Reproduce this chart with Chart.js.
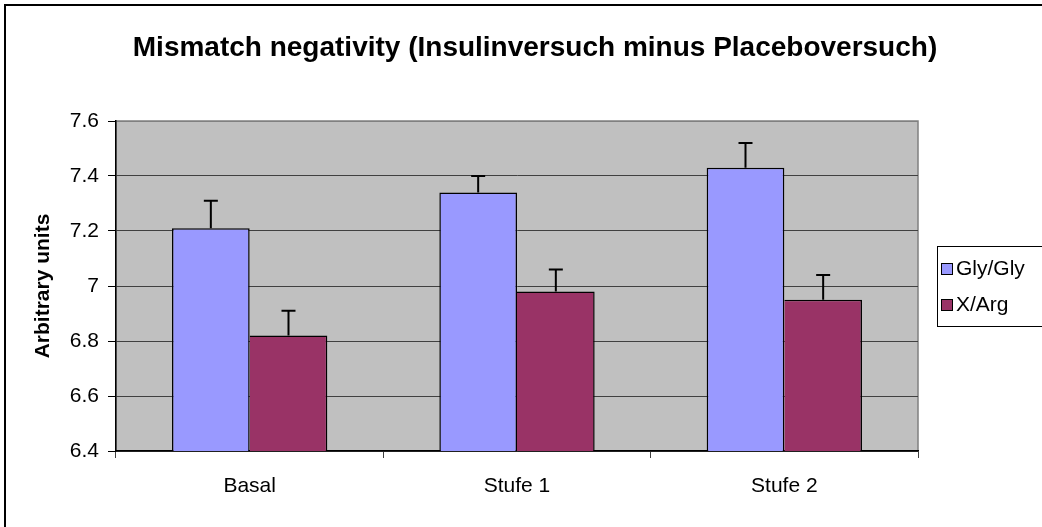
<!DOCTYPE html>
<html>
<head>
<meta charset="utf-8">
<script src="https://cdn.jsdelivr.net/npm/chart.js@4/dist/chart.umd.min.js"></script>
<style>
  html, body { margin: 0; padding: 0; background: #fff; }
  canvas { display: block; }
</style>
</head>
<body>
<canvas id="chart-canvas" width="1042" height="527"></canvas>
<script>
// values
const categories = ['Basal', 'Stufe 1', 'Stufe 2'];
const seriesNames = ['Gly/Gly', 'X/Arg'];
const glyValues = [7.21, 7.34, 7.43];
const glyErrors = [0.10, 0.06, 0.09];
const argValues = [6.82, 6.98, 6.95];
const argErrors = [0.09, 0.08, 0.09];
const yTicks = [6.4, 6.6, 6.8, 7.0, 7.2, 7.4, 7.6];

const titleText = 'Mismatch negativity (Insulinversuch minus Placeboversuch)';
const FONT = '"Liberation Sans", Arial, sans-serif';

Chart.defaults.font.family = FONT;
Chart.defaults.color = '#000';

// gray plot background, frame, outer border and chart title
const backdrop = {
  id: 'backdrop',
  beforeDraw(chart) {
    const { ctx, chartArea: a } = chart;
    ctx.save();
    ctx.fillStyle = '#C0C0C0';
    ctx.fillRect(a.left, a.top, a.right - a.left, a.bottom - a.top);
    ctx.strokeStyle = '#808080';
    ctx.lineWidth = 1.5;
    ctx.strokeRect(a.left, a.top, a.right - a.left, a.bottom - a.top);
    ctx.restore();
  },
  afterDraw(chart) {
    const { ctx } = chart;
    ctx.save();
    ctx.strokeStyle = '#000';
    ctx.lineWidth = 2;
    ctx.beginPath();
    ctx.moveTo(5, chart.height);
    ctx.lineTo(5, 5);
    ctx.lineTo(chart.width, 5);
    ctx.stroke();
    ctx.fillStyle = '#000';
    ctx.font = 'bold 28px ' + FONT;
    ctx.textAlign = 'center';
    ctx.textBaseline = 'alphabetic';
    ctx.fillText(titleText, 535, 56);
    ctx.restore();
  }
};

// error bars (upper only), using the y scale
const errorBars = {
  id: 'errorBars',
  afterDatasetsDraw(chart) {
    const { ctx } = chart;
    const y = chart.scales.y;
    ctx.save();
    ctx.strokeStyle = '#000';
    ctx.lineWidth = 2;
    chart.data.datasets.forEach((ds, i) => {
      chart.getDatasetMeta(i).data.forEach((bar, j) => {
        const top = y.getPixelForValue(ds.data[j] + ds.errors[j]);
        ctx.beginPath();
        ctx.moveTo(bar.x, bar.y);
        ctx.lineTo(bar.x, top);
        ctx.moveTo(bar.x - 7, top);
        ctx.lineTo(bar.x + 7, top);
        ctx.stroke();
      });
    });
    ctx.restore();
  }
};

// boxed legend on the right, like the original
const boxLegend = {
  id: 'boxLegend',
  afterDraw(chart) {
    const { ctx } = chart;
    ctx.save();
    ctx.strokeStyle = '#000';
    ctx.lineWidth = 1;
    ctx.strokeRect(937.5, 246.5, 120, 80);
    ctx.font = '21px ' + FONT;
    ctx.textBaseline = 'middle';
    ctx.textAlign = 'left';
    chart.data.datasets.forEach((ds, i) => {
      const cy = 268 + i * 36;
      ctx.fillStyle = ds.backgroundColor;
      ctx.fillRect(941, cy - 5, 11, 11);
      ctx.strokeRect(941.5, cy - 4.5, 11, 11);
      ctx.fillStyle = '#000';
      ctx.fillText(ds.label, 956, cy + 1);
    });
    ctx.restore();
  }
};

new Chart(document.getElementById('chart-canvas'), {
  type: 'bar',
  plugins: [backdrop, errorBars, boxLegend],
  data: {
    labels: categories,
    datasets: [
      {
        label: seriesNames[0],
        data: glyValues,
        errors: glyErrors,
        backgroundColor: '#9999FF',
        borderColor: '#000',
        borderWidth: 1.5,
        borderSkipped: false,
        categoryPercentage: 0.581,
        barPercentage: 1
      },
      {
        label: seriesNames[1],
        data: argValues,
        errors: argErrors,
        backgroundColor: '#993366',
        borderColor: '#000',
        borderWidth: 1.5,
        borderSkipped: 'left',
        categoryPercentage: 0.581,
        barPercentage: 1
      }
    ]
  },
  options: {
    responsive: false,
    animation: false,
    layout: { padding: { left: 0, top: 121, right: 124, bottom: 0 } },
    plugins: {
      legend: { display: false },
      title: { display: false },
      tooltip: { enabled: false }
    },
    scales: {
      x: {
        afterFit(scale) { scale.height = 76; },
        grid: {
          offset: true,
          drawOnChartArea: false,
          drawTicks: true,
          tickLength: 7,
          tickColor: '#404040'
        },
        border: { color: '#000', width: 1.5 },
        ticks: { font: { size: 21 }, padding: 16 }
      },
      y: {
        min: 6.4,
        max: 7.6,
        afterFit(scale) { scale.width = 116; },
        afterBuildTicks(axis) {
          axis.ticks = yTicks.map(v => ({ value: v }));
        },
        grid: {
          color: ctx => (ctx.tick && ctx.tick.value === 7.6) ? '#808080' : '#404040',
          lineWidth: 1,
          tickLength: 8,
          tickColor: '#000'
        },
        border: { color: '#000', width: 1.5 },
        ticks: {
          font: { size: 21 },
          padding: 9,
          callback: v => String(+v.toFixed(1))
        },
        title: {
          display: true,
          text: 'Arbitrary units',
          font: { size: 21, weight: 'bold' },
          padding: { top: 31, bottom: 0 }
        }
      }
    }
  }
});
</script>
</body>
</html>
